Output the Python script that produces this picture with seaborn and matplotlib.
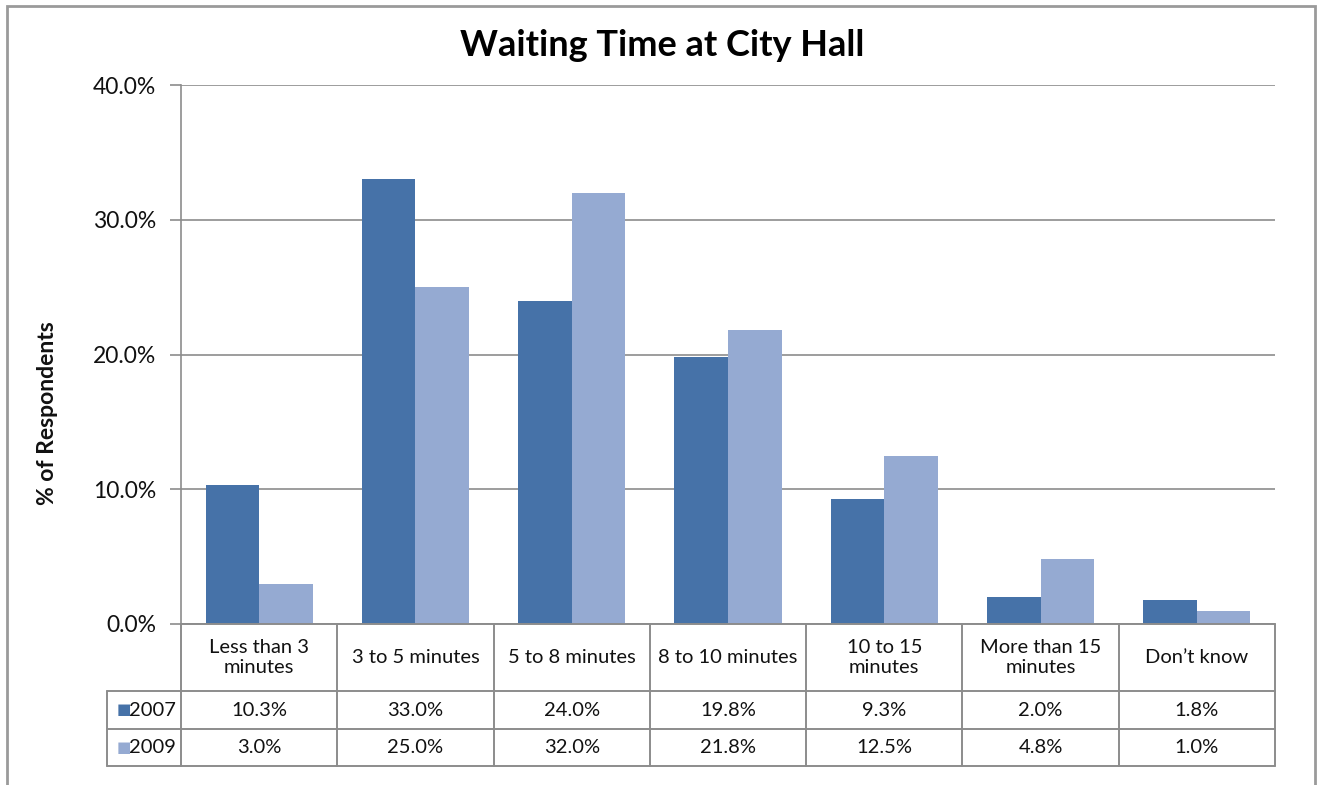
import matplotlib
matplotlib.use("Agg")
import matplotlib.pyplot as plt
import seaborn as sns
import pandas as pd
from matplotlib.patches import Rectangle
from matplotlib.lines import Line2D
import matplotlib.transforms as mtransforms

# data
categories = ["Less than 3\nminutes", "3 to 5 minutes", "5 to 8 minutes", "8 to 10 minutes",
              "10 to 15\nminutes", "More than 15\nminutes", "Don\u2019t know"]
years = ["2007", "2009"]
v2007 = [10.3, 33.0, 24.0, 19.8, 9.3, 2.0, 1.8]
v2009 = [3.0, 25.0, 32.0, 21.8, 12.5, 4.8, 1.0]
y_ticks = [0, 10, 20, 30, 40]

colors = {"2007": "#4672a8", "2009": "#95aad2"}
grid_col = "#8c8c8c"
txt_col = "#111111"

df = pd.DataFrame({
    "cat": categories * 2,
    "year": ["2007"] * len(categories) + ["2009"] * len(categories),
    "pct": v2007 + v2009,
})

sns.set_style("white")
plt.rcParams["font.family"] = ["Lato", "DejaVu Sans"]

fig = plt.figure(figsize=(13.25, 7.85), dpi=100)
W, H = 1325, 785
ax = fig.add_axes([181 / W, (H - 624) / H, (1275 - 181) / W, (624 - 85) / H])

sns.barplot(data=df, x="cat", y="pct", hue="year", order=categories, hue_order=years,
            palette=colors, width=0.685, gap=0, saturation=1, linewidth=0,
            ax=ax, legend=False)

ax.set_ylim(0, 40)
ax.set_xlim(-0.5, len(categories) - 0.5)
ax.set_yticks(y_ticks)
ax.set_yticklabels([f"{t:.1f}%" for t in y_ticks], fontsize=16.5, color=txt_col)
ax.set_xticks([])
ax.set_xlabel("")
ax.set_ylabel("% of Respondents", fontsize=16.5, fontweight="bold", color=txt_col)
ax.yaxis.set_label_coords(-0.112, 0.391)
ax.yaxis.grid(True, color=grid_col, linewidth=1.2)
ax.set_axisbelow(True)
ax.tick_params(axis="y", length=8, width=1.2, color=grid_col, pad=10, left=True)
for side in ["top", "right", "bottom"]:
    ax.spines[side].set_visible(False)
ax.spines["left"].set_color(grid_col)
ax.spines["left"].set_linewidth(1.2)

fig.text(0.5, (H - 45) / H, "Waiting Time at City Hall", ha="center", va="center",
         fontsize=26, fontweight="bold", color="#000000")

# data table under the axis
tr = mtransforms.blended_transform_factory(ax.transData, ax.transAxes)
ph = 624 - 85
y_hdr = 0.0
y_r1 = -(691 - 624) / ph
y_r2 = -(729 - 624) / ph
y_r3 = -(766 - 624) / ph
x_left = -0.5 - (181 - 107) / ((1275 - 181) / len(categories))
x_right = len(categories) - 0.5
lw = 1.4
fs = 14.5

def hline(x0, x1, y):
    ax.add_line(Line2D([x0, x1], [y, y], transform=tr, color=grid_col, lw=lw, clip_on=False))

def vline(x, y0, y1):
    ax.add_line(Line2D([x, x], [y0, y1], transform=tr, color=grid_col, lw=lw, clip_on=False))

hline(-0.5, x_right, y_hdr)
hline(x_left, x_right, y_r1)
hline(x_left, x_right, y_r2)
hline(x_left, x_right, y_r3)
for i in range(len(categories) + 1):
    vline(i - 0.5, y_hdr, y_r3)
vline(x_left, y_r1, y_r3)

for i, c in enumerate(categories):
    ax.text(i, (y_hdr + y_r1) / 2, c, transform=tr, ha="center", va="center",
            fontsize=fs, linespacing=1.2, color=txt_col)
    ax.text(i, (y_r1 + y_r2) / 2, f"{v2007[i]:.1f}%", transform=tr, ha="center",
            va="center", fontsize=fs, color=txt_col)
    ax.text(i, (y_r2 + y_r3) / 2, f"{v2009[i]:.1f}%", transform=tr, ha="center",
            va="center", fontsize=fs, color=txt_col)

for yr, y0, y1 in [("2007", y_r1, y_r2), ("2009", y_r2, y_r3)]:
    ym = (y0 + y1) / 2
    ax.text(x_left + 0.06, ym, "\u25A0", transform=tr, ha="left", va="center",
            fontsize=11, color=colors[yr])
    ax.text(x_left + 0.14, ym, yr, transform=tr, ha="left", va="center",
            fontsize=fs, color=txt_col)

# outer chart border
fig.patches.append(Rectangle((7 / W, -0.05), (1315 - 7) / W, (H - 6) / H + 0.05,
                             transform=fig.transFigure, fill=False,
                             edgecolor="#9a9a9a", lw=2))

fig.savefig("out.png", dpi=100)
